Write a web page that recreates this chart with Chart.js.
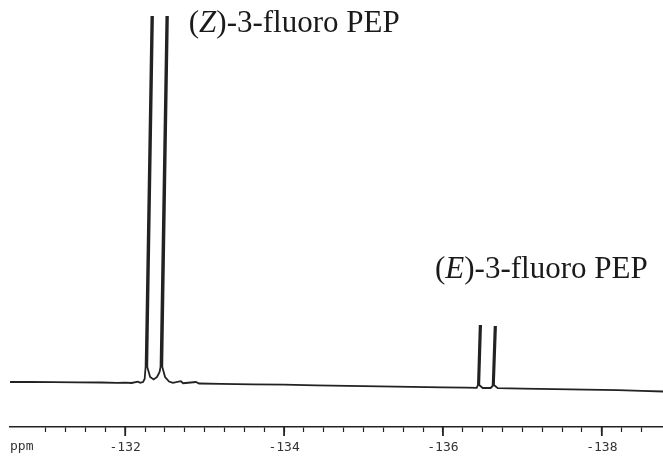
<!DOCTYPE html>
<html>
<head>
<meta charset="utf-8">
<script src="https://cdn.jsdelivr.net/npm/chart.js@4/dist/chart.umd.min.js"></script>
<style>
  html, body { margin: 0; padding: 0; background: #fff; }
  #wrap { width: 663px; height: 460px; position: relative; }
</style>
</head>
<body>
<div id="wrap"><canvas id="spec"></canvas></div>
<script>
// 19F spectrum trace (ppm, height above axis)
const ppm = [
    -130.55, -130.80, -131.10, -131.40, -131.70, -131.90, -132.00, -132.08, -132.16, -132.19,
    -132.225, -132.245, -132.257, -132.330, -132.350, -132.278, -132.314, -132.358, -132.401, -132.433,
    -132.445, -132.518, -132.538, -132.467, -132.502, -132.552, -132.60, -132.70, -132.73, -132.89,
    -132.93, -133.20, -133.60, -134.00, -134.40, -134.80, -135.20, -135.60, -136.00, -136.30,
    -136.425, -136.440, -136.462, -136.480, -136.457, -136.50, -136.60, -136.625, -136.650, -136.668,
    -136.642, -136.69, -137.00, -137.40, -137.80, -138.20, -138.50, -138.77,
];
const intensity = [
    45.0, 45.2, 44.8, 44.6, 44.5, 44.1, 44.4, 44.0, 45.4, 44.3,
    45.0, 48.0, 60.0, 410.0, 410.0, 60.0, 50.0, 47.5, 50.0, 55.0,
    60.0, 410.0, 410.0, 60.0, 50.0, 45.5, 44.2, 45.8, 43.8, 45.0,
    43.5, 43.2, 42.6, 42.3, 41.7, 41.2, 40.6, 40.1, 39.6, 39.3,
    39.2, 42.0, 101.0, 101.0, 42.0, 39.0, 39.0, 41.0, 100.0, 100.0,
    42.0, 38.8, 38.3, 37.8, 37.4, 36.8, 36.2, 35.5,
];

const xMin = -138.77;
const xMax = -130.55;
const majorTicks = [-132, -134, -136, -138];

// peak labels: [prefix, italic part, rest, ppm at left edge, height of baseline]
const peakLabels = [
    ['(', 'Z', ')-3-fluoro PEP', -132.80, 395],
    ['(', 'E', ')-3-fluoro PEP', -135.90, 149],
];

const inkColor = '#222';

const decorations = {
    id: 'decorations',
    afterDraw(chart) {
        const { ctx, chartArea, scales } = chart;
        const sx = scales.x;
        const sy = scales.y;
        ctx.save();

        // longer marks for the labelled ticks
        ctx.strokeStyle = inkColor;
        ctx.lineWidth = 1.8;
        majorTicks.forEach((v) => {
            const x = sx.getPixelForValue(v);
            ctx.beginPath();
            ctx.moveTo(x, chartArea.bottom);
            ctx.lineTo(x, chartArea.bottom + 9);
            ctx.stroke();
        });

        // unit label at the left end of the axis
        ctx.fillStyle = '#333';
        ctx.font = '13px "DejaVu Sans Mono"';
        ctx.textBaseline = 'middle';
        ctx.textAlign = 'left';
        ctx.fillText('ppm', chartArea.left, chartArea.bottom + 20);

        // peak annotations
        ctx.fillStyle = '#1a1a1a';
        ctx.textBaseline = 'alphabetic';
        peakLabels.forEach(([a, b, c, p, h]) => {
            let x = sx.getPixelForValue(p);
            const y = sy.getPixelForValue(h);
            ctx.font = '31px "Liberation Serif"';
            ctx.fillText(a, x, y);
            x += ctx.measureText(a).width;
            ctx.font = 'italic 31px "Liberation Serif"';
            ctx.fillText(b, x, y);
            x += ctx.measureText(b).width;
            ctx.font = '31px "Liberation Serif"';
            ctx.fillText(c, x, y);
        });
        ctx.restore();
    },
};

new Chart(document.getElementById('spec'), {
    type: 'scatter',
    data: {
        datasets: [{
            data: ppm.map((x, i) => ({ x, y: intensity[i] })),
            showLine: true,
            borderColor: inkColor,
            borderWidth: 1.8,
            pointRadius: 0,
            tension: 0,
            fill: false,
        }],
    },
    options: {
        responsive: true,
        maintainAspectRatio: false,
        animation: false,
        layout: { padding: { left: 10, right: 0, top: 0, bottom: 0 } },
        plugins: {
            legend: { display: false },
            tooltip: { enabled: false },
        },
        scales: {
            x: {
                type: 'linear',
                reverse: true,
                min: xMin,
                max: xMax,
                afterBuildTicks(scale) {
                    scale.ticks = scale.ticks.filter((t) => Math.abs(t.value * 4 - Math.round(t.value * 4)) < 1e-6);
                },
                // fixed strip height so the axis sits where the plotter drew it
                afterFit(scale) {
                    scale.height = 33;
                },
                ticks: {
                    stepSize: 0.25,
                    autoSkip: false,
                    maxRotation: 0,
                    padding: 8,
                    color: '#333',
                    font: { family: '"DejaVu Sans Mono"', size: 13 },
                    callback(v) {
                        const r = Math.round(v);
                        return Math.abs(v - r) < 1e-6 && r % 2 === 0 ? String(r) : '';
                    },
                },
                grid: {
                    display: true,
                    drawOnChartArea: false,
                    drawTicks: true,
                    tickLength: 5,
                    tickColor: inkColor,
                    tickWidth: 1.2,
                },
                border: { display: true, color: inkColor, width: 1.5 },
            },
            y: {
                display: false,
                min: 0,
                max: 427,
            },
        },
    },
    plugins: [decorations],
});
</script>
</body>
</html>
